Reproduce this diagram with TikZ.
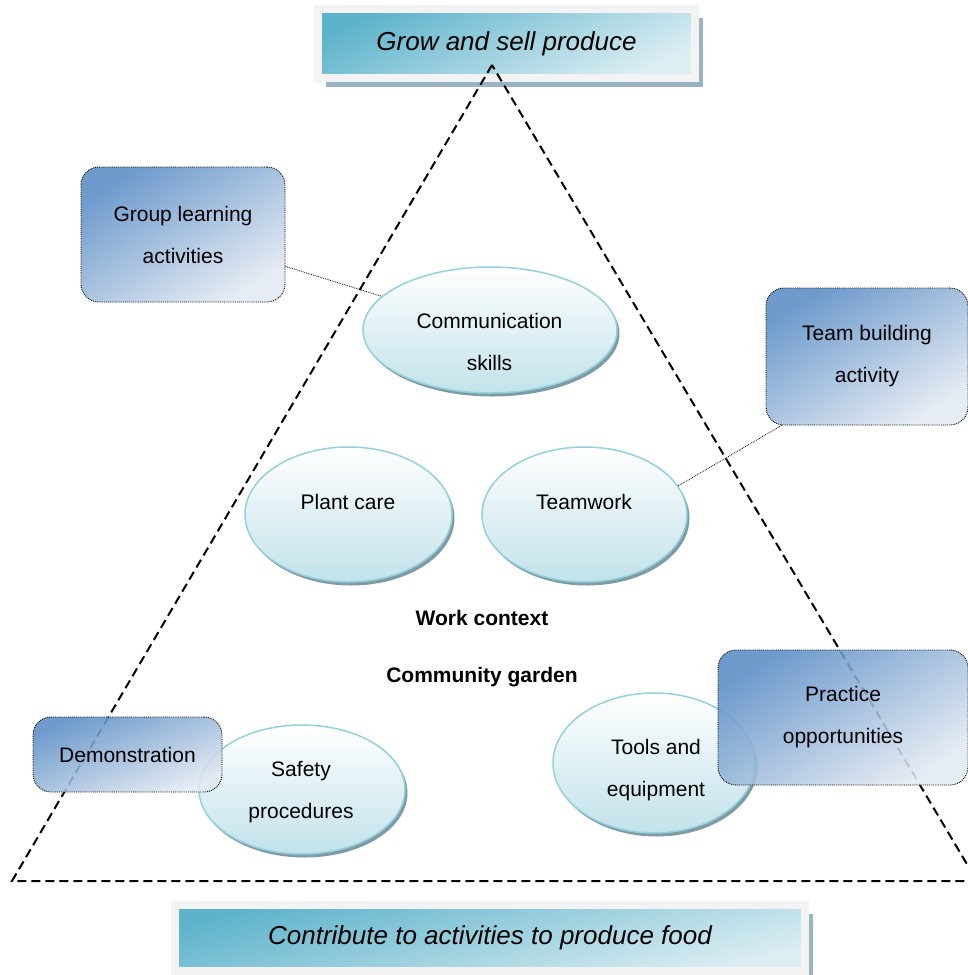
\documentclass[tikz,border=0pt]{standalone}
\usepackage{fontspec}
\setmainfont{Liberation Sans}
\usetikzlibrary{shapes.geometric,shadows}

\definecolor{goaldark}{HTML}{5DB3CB}
\definecolor{goallight}{HTML}{DDEEF3}
\definecolor{framegray}{HTML}{F3F3F3}
\definecolor{goalshadow}{HTML}{98B4C1}
\definecolor{methdark}{HTML}{5A8DC5}
\definecolor{methlight}{HTML}{E3E9F2}
\definecolor{skillline}{HTML}{94D0DD}
\definecolor{skillbot}{HTML}{C2E2EA}
\definecolor{skillshadow}{HTML}{7F9CA5}

\tikzset{
	goalbox/.style={rectangle, draw=framegray, line width=8pt, top color=goaldark, bottom color=goallight, shading angle=25, inner sep=0pt, drop shadow={shadow xshift=8pt, shadow yshift=-9pt, fill=goalshadow, opacity=1}, font=\fontsize{26}{30}\selectfont\itshape},
	skill/.style={ellipse, draw=skillline, line width=1.5pt, top color=white, bottom color=skillbot, inner sep=0pt, drop shadow={shadow xshift=2.5pt, shadow yshift=-3.5pt, fill=skillshadow, opacity=1}},
	skilltext/.style={align=center, inner sep=0pt, font=\fontsize{21}{42}\selectfont},
	method/.style={rectangle, rounded corners=18pt, draw=black, densely dotted, line width=0.9pt, top color=methdark, bottom color=methlight, shading angle=32, fill opacity=0.88, text opacity=1, inner sep=0pt, align=center, font=\fontsize{21}{42}\selectfont},
	context/.style={inner sep=0pt, font=\fontsize{21}{25}\selectfont\bfseries},
	frame/.style={line width=2pt, dash pattern=on 9pt off 5pt},
	link/.style={densely dotted, line width=0.8pt}
}

\begin{document}
\begin{tikzpicture}[x=1pt, y=-1pt]
	%%%%% START %%%%%
	\useasboundingbox (0, 0) rectangle (968, 975);
	
	% outcome boxes
	\node[goalbox, minimum width=377, minimum height=69] (goal) at (506.5, 43.5) {Grow and sell produce};
	\node[goalbox, shading angle=15, minimum width=630, minimum height=66] (outcome) at (490, 938) {Contribute to activities to produce food};
	
	% triangle
	\coordinate (apex) at (492, 65);
	\coordinate (bl) at (12, 881);
	\coordinate (br) at (977, 881);
	\draw[frame] (apex) -- (bl) -- (br) -- cycle;
	
	% skills
	\node[skill, minimum width=254, minimum height=126] (comm) at (490, 330) {};
	\node[skill, minimum width=207, minimum height=135] (plant) at (348.5, 514.5) {};
	\node[skill, minimum width=205, minimum height=135] (teamwork) at (584.5, 514.5) {};
	\node[skill, minimum width=206, minimum height=129] (safety) at (302, 789.5) {};
	\node[skill, minimum width=202, minimum height=140] (tools) at (654, 763) {};
	
	\node[skilltext] (comm-t) at (489.5, 342) {Communication\\skills};
	\node[skilltext] (plant-t) at (348, 502) {Plant care};
	\node[skilltext] (teamwork-t) at (584, 502) {Teamwork};
	\node[skilltext] (safety-t) at (301, 792.5) {Safety\\procedures};
	\node[skilltext] (tools-t) at (656, 770) {Tools and\\equipment};
	
	% context
	\node[context] (work) at (482, 618) {Work context};
	\node[context] (garden) at (482, 677) {Community garden};
	
	% methods
	\node[method, minimum width=204, minimum height=135] (grouplearn) at (183, 234.5) {Group learning\\activities};
	\node[method, minimum width=202, minimum height=137] (teamact) at (867, 356.5) {Team building\\activity};
	\node[method, shading angle=22, minimum width=189, minimum height=75] (demo) at (127.5, 754.5) {Demonstration};
	\node[method, minimum width=250, minimum height=135] (practice) at (843, 717.5) {Practice\\opportunities};
	
	\draw[link] (grouplearn) -- (comm);
	\draw[link] ([xshift=16pt]teamact.south west) -- (teamwork.17);
	
	%%%%% END %%%%%
\end{tikzpicture}
\end{document}
